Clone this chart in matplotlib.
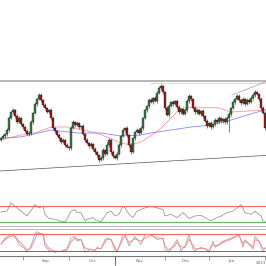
import numpy as np
import matplotlib
matplotlib.use("Agg")
import matplotlib.pyplot as plt

# ---- price data (daily closes) ----
first_open = 1.3205
closes = [
    1.3215, 1.3225, 1.3235, 1.3255, 1.3315, 1.3345, 1.3355, 1.3325, 1.3295, 1.3315,
    1.3285, 1.3270, 1.3250, 1.3235, 1.3240, 1.3295, 1.3340, 1.3385, 1.3410, 1.3430,
    1.3405, 1.3380, 1.3365, 1.3345, 1.3355, 1.3315, 1.3265, 1.3250, 1.3230, 1.3215,
    1.3195, 1.3205, 1.3180, 1.3170, 1.3165, 1.3265, 1.3295, 1.3280, 1.3290, 1.3270,
    1.3275, 1.3235, 1.3205, 1.3190, 1.3175, 1.3185, 1.3160, 1.3145, 1.3130, 1.3105,
    1.3115, 1.3155, 1.3135, 1.3180, 1.3205, 1.3145, 1.3125, 1.3115, 1.3135, 1.3180,
    1.3225, 1.3255, 1.3265, 1.3230, 1.3180, 1.3145, 1.3215, 1.3245, 1.3255, 1.3240,
    1.3265, 1.3315, 1.3355, 1.3375, 1.3405, 1.3395, 1.3415, 1.3400, 1.3440, 1.3465,
    1.3475, 1.3445, 1.3365, 1.3330, 1.3375, 1.3395, 1.3385, 1.3400, 1.3370, 1.3345,
    1.3360, 1.3335, 1.3355, 1.3400, 1.3425, 1.3410, 1.3365, 1.3345, 1.3355, 1.3335,
    1.3350, 1.3325, 1.3300, 1.3275, 1.3290, 1.3270, 1.3285, 1.3305, 1.3295, 1.3315,
    1.3300, 1.3310, 1.3295, 1.3315, 1.3335, 1.3365, 1.3395, 1.3410, 1.3425, 1.3405,
    1.3390, 1.3410, 1.3385, 1.3405, 1.3395, 1.3415, 1.3430, 1.3445, 1.3435, 1.3410,
    1.3365, 1.3340, 1.3265,
]
# wick sizes in pips
upper_wick = [
    6, 8, 5, 10, 12, 7, 9, 6, 8, 10, 5, 7, 6, 9, 8, 11, 7, 10, 6, 12,
    8, 5, 9, 7, 6, 10, 8, 6, 7, 9, 5, 8, 6, 10, 7, 12, 8, 6, 9, 7,
    5, 8, 6, 10, 7, 9, 6, 8, 5, 7, 10, 12, 6, 15, 8, 6, 9, 7, 8, 10,
    6, 9, 7, 8, 5, 10, 7, 6, 9, 8, 10, 7, 9, 6, 8, 10, 7, 9, 11, 8,
    12, 7, 6, 9, 8, 7, 10, 6, 8, 9, 7, 6, 10, 9, 8, 6, 7, 9, 8, 6,
    7, 8, 6, 9, 7, 8, 6, 9, 7, 8, 6, 7, 9, 8, 10, 7, 9, 6, 10, 8,
    7, 9, 6, 8, 7, 10, 9, 8, 6, 7, 9, 8, 10,
]
lower_wick = [
    7, 6, 9, 8, 10, 6, 8, 9, 7, 6, 8, 10, 7, 6, 9, 8, 10, 7, 9, 6,
    8, 10, 7, 6, 9, 8, 7, 10, 6, 9, 8, 7, 10, 6, 9, 8, 7, 9, 6, 8,
    10, 7, 9, 6, 8, 7, 10, 9, 8, 12, 7, 9, 8, 6, 9, 10, 8, 7, 9, 6,
    8, 7, 10, 9, 12, 8, 7, 9, 6, 8, 7, 9, 6, 8, 10, 7, 9, 6, 8, 7,
    9, 8, 10, 7, 9, 6, 8, 7, 10, 9, 8, 7, 6, 9, 8, 10, 7, 8, 9, 6,
    8, 10, 7, 9, 6, 8, 7, 9, 8, 6, 7, 9, 8, 8, 70, 9, 7, 8, 6, 9,
    8, 7, 9, 6, 8, 7, 9, 8, 6, 9, 8, 7, 12,
]

# moving averages (sampled)
ma_red_idx = [0, 10, 17, 25, 34, 48, 60, 65, 70, 79, 85, 90, 97, 109, 115, 132]
ma_red_val = [1.3205, 1.3230, 1.3240, 1.3270, 1.3270, 1.3240, 1.3190, 1.3180,
              1.3195, 1.3255, 1.3315, 1.3365, 1.3370, 1.3365, 1.3345, 1.3355]
ma_blue_idx = [0, 10, 25, 38, 50, 60, 70, 75, 85, 95, 105, 115, 123, 132]
ma_blue_val = [1.3215, 1.3220, 1.3255, 1.3240, 1.3240, 1.3225, 1.3230, 1.3240,
               1.3255, 1.3270, 1.3280, 1.3305, 1.3330, 1.3355]

# trend lines (start/end index and price)
support_x = [-0.5, 132.5]
support_y = [1.3050, 1.3128]
resist_level = 1.3500
top_line_x = [74.5, 132.5]
top_line_y = [1.3489, 1.3489]
rising_x = [115.5, 132.5]
rising_y = [1.3430, 1.34965]

# RSI
rsi_idx = [0, 3, 5, 7, 9, 12, 13, 16, 17, 19, 21, 22, 24, 27, 29, 32, 33, 35, 37, 38,
           40, 42, 43, 46, 47, 50, 52, 53, 55, 57, 59, 61, 62, 64, 66,
           68, 72, 75, 78, 81, 82, 85, 88, 91, 92, 94, 97, 100, 102, 105, 107, 110,
           113, 116, 118, 120, 122, 125, 127, 130, 131, 132]
rsi_val = [54.6, 56.9, 76.2, 68.5, 60.8, 49.2, 45.3, 64.6, 72.3, 64.6, 68.5, 49.2,
           39.2, 37.6, 33.8, 31.5, 37.6, 56.9, 60.8, 53, 53, 33.8, 37.6, 41.5, 36.1,
           31.5, 45.3, 53, 56.9, 45.3, 49.2, 68.5, 64.6, 49.2, 41.5,
           56.9, 64.6, 68.5, 64.6, 60.8, 45.3, 49.2, 41.5, 53, 49.2, 39.2, 45.3, 46.8,
           41.5, 33.8, 39.2, 45.3, 53, 56.9, 64.6, 72.3, 53, 49.2, 56.9, 45.3, 33.8, 31.5]

# stochastic
stoch_idx = [0, 2, 5, 7, 9, 12, 13, 15, 17, 18, 21, 22, 24, 27, 30, 33, 35, 37, 38, 40,
             42, 45, 47, 48, 50, 52, 53, 55, 57, 58, 61, 62, 64,
             67, 70, 72, 75, 78, 81, 82, 84, 87, 88, 90, 92, 94, 96, 97, 100, 102, 104,
             106, 107, 109, 111, 115, 117, 119, 121, 122, 124, 126, 127, 129, 131, 132]
stoch_k = [43, 66, 80, 72, 43, 26, 14, 37, 84, 90, 78, 37, 20, 14, 18, 26, 66, 72, 55, 61,
           14, 26, 20, 32, 26, 61, 66, 61, 20, 14, 78, 80, 37,
           72, 43, 78, 80, 61, 66, 26, 14, 49, 61, 20, 37, 78, 26, 20, 32, 26, 14,
           55, 32, 43, 55, 66, 72, 80, 32, 61, 43, 26, 72, 55, 14, 32]
stoch_d = [45, 60, 74, 74, 55, 33, 22, 30, 62, 84, 82, 50, 28, 18, 17, 22, 52, 66, 62, 60,
           30, 24, 22, 28, 28, 50, 62, 62, 32, 18, 62, 76, 50,
           64, 55, 66, 76, 68, 64, 38, 22, 38, 52, 34, 32, 62, 40, 26, 28, 28, 20,
           42, 38, 40, 50, 62, 70, 76, 46, 54, 46, 34, 60, 56, 28, 28]

month_starts = [11, 34, 57, 82, 104, 132]
month_mid = [22.5, 45.5, 69.5, 92.5, 115]
month_labels = ["Sep", "Okt", "Nov", "Des", "Jan"]
year_start = 57

closes = np.array(closes)
n = len(closes)
opens = np.concatenate([[first_open], closes[:-1]])
highs = np.maximum(opens, closes) + np.array(upper_wick) * 0.0001
lows = np.minimum(opens, closes) - np.array(lower_wick) * 0.0001
idx = np.arange(n)

fig = plt.figure(figsize=(2.66, 2.66), dpi=100)
H = 266.0
ax = fig.add_axes([0, 1 - 193 / H, 1, 115 / H])
ax1 = fig.add_axes([0, 1 - 226 / H, 1, 33 / H], sharex=ax)
ax2 = fig.add_axes([0, 1 - 256 / H, 1, 27 / H], sharex=ax)

# candles
up = closes >= opens
ax.vlines(idx, lows, highs, color="#222222", lw=0.4, zorder=2)
body = np.where(np.abs(closes - opens) < 0.0002, 0.0002, closes - opens)
ax.bar(idx[up], body[up], bottom=opens[up], width=0.75, color="#3d7a45",
       edgecolor="#111111", lw=0.25, zorder=3)
ax.bar(idx[~up], body[~up], bottom=opens[~up], width=0.75, color="#9c1c1c",
       edgecolor="#111111", lw=0.25, zorder=3)

ax.plot(ma_red_idx, ma_red_val, color="#ff7a7a", lw=0.6, alpha=0.8, zorder=1)
ax.plot(ma_blue_idx, ma_blue_val, color="#6a6aff", lw=0.6, alpha=0.8, zorder=1)
ax.plot(support_x, support_y, color="#555555", lw=0.5)
ax.axhline(resist_level, color="#aaaaaa", lw=1.2)
ax.plot(top_line_x, top_line_y, color="#bbbbbb", lw=0.4)
ax.plot(rising_x, rising_y, color="#999999", lw=0.5)
ax.set_ylim(1.2940, 1.3515)
ax.set_xlim(-0.5, n - 0.5)

# RSI panel
ax1.plot(rsi_idx, rsi_val, color="#888888", lw=0.5)
ax1.axhline(70, color="#ff6060", lw=0.8)
ax1.axhline(30, color="#66b866", lw=0.8)
ax1.set_ylim(21.4, 100)

# stochastic panel
ax2.plot(stoch_idx, stoch_k, color="#999999", lw=0.5)
ax2.plot(stoch_idx, stoch_d, color="#ff8080", lw=0.6)
ax2.axhline(80, color="#ff6060", lw=0.8)
ax2.axhline(20, color="#555555", lw=0.6)
ax2.set_ylim(0, 100)

for a in (ax, ax1, ax2):
    a.set_yticks([])
    for s in ("left", "right"):
        a.spines[s].set_visible(False)
    for s in ("top", "bottom"):
        a.spines[s].set_color("#bbbbbb")
        a.spines[s].set_linewidth(0.8)
    a.tick_params(axis="x", which="both", bottom=False, labelbottom=False)
ax.spines["top"].set_visible(False)
ax.spines["bottom"].set_color("#e0e0e0")
ax1.spines["top"].set_visible(False)

ax2.spines["bottom"].set_color("#777777")
ax2.set_xticks(month_starts)
ax2.set_xticks(month_mid, minor=True)
ax2.set_xticklabels(month_labels, minor=True)
ax2.tick_params(axis="x", which="major", bottom=True, length=3, width=0.5,
                color="#777777", direction="out")
ax2.tick_params(axis="x", which="minor", bottom=False, labelbottom=True,
                labelsize=3, labelcolor="#666666", pad=0.5)
ax2.plot([year_start, year_start], [0, -0.35], transform=ax2.get_xaxis_transform(),
         color="#555555", lw=0.6, clip_on=False)
ax2.text(n - 5.5, -0.25, "2013", transform=ax2.get_xaxis_transform(),
         fontsize=3, color="#666666", va="center")

fig.savefig("out.png", dpi=100, facecolor="white")
